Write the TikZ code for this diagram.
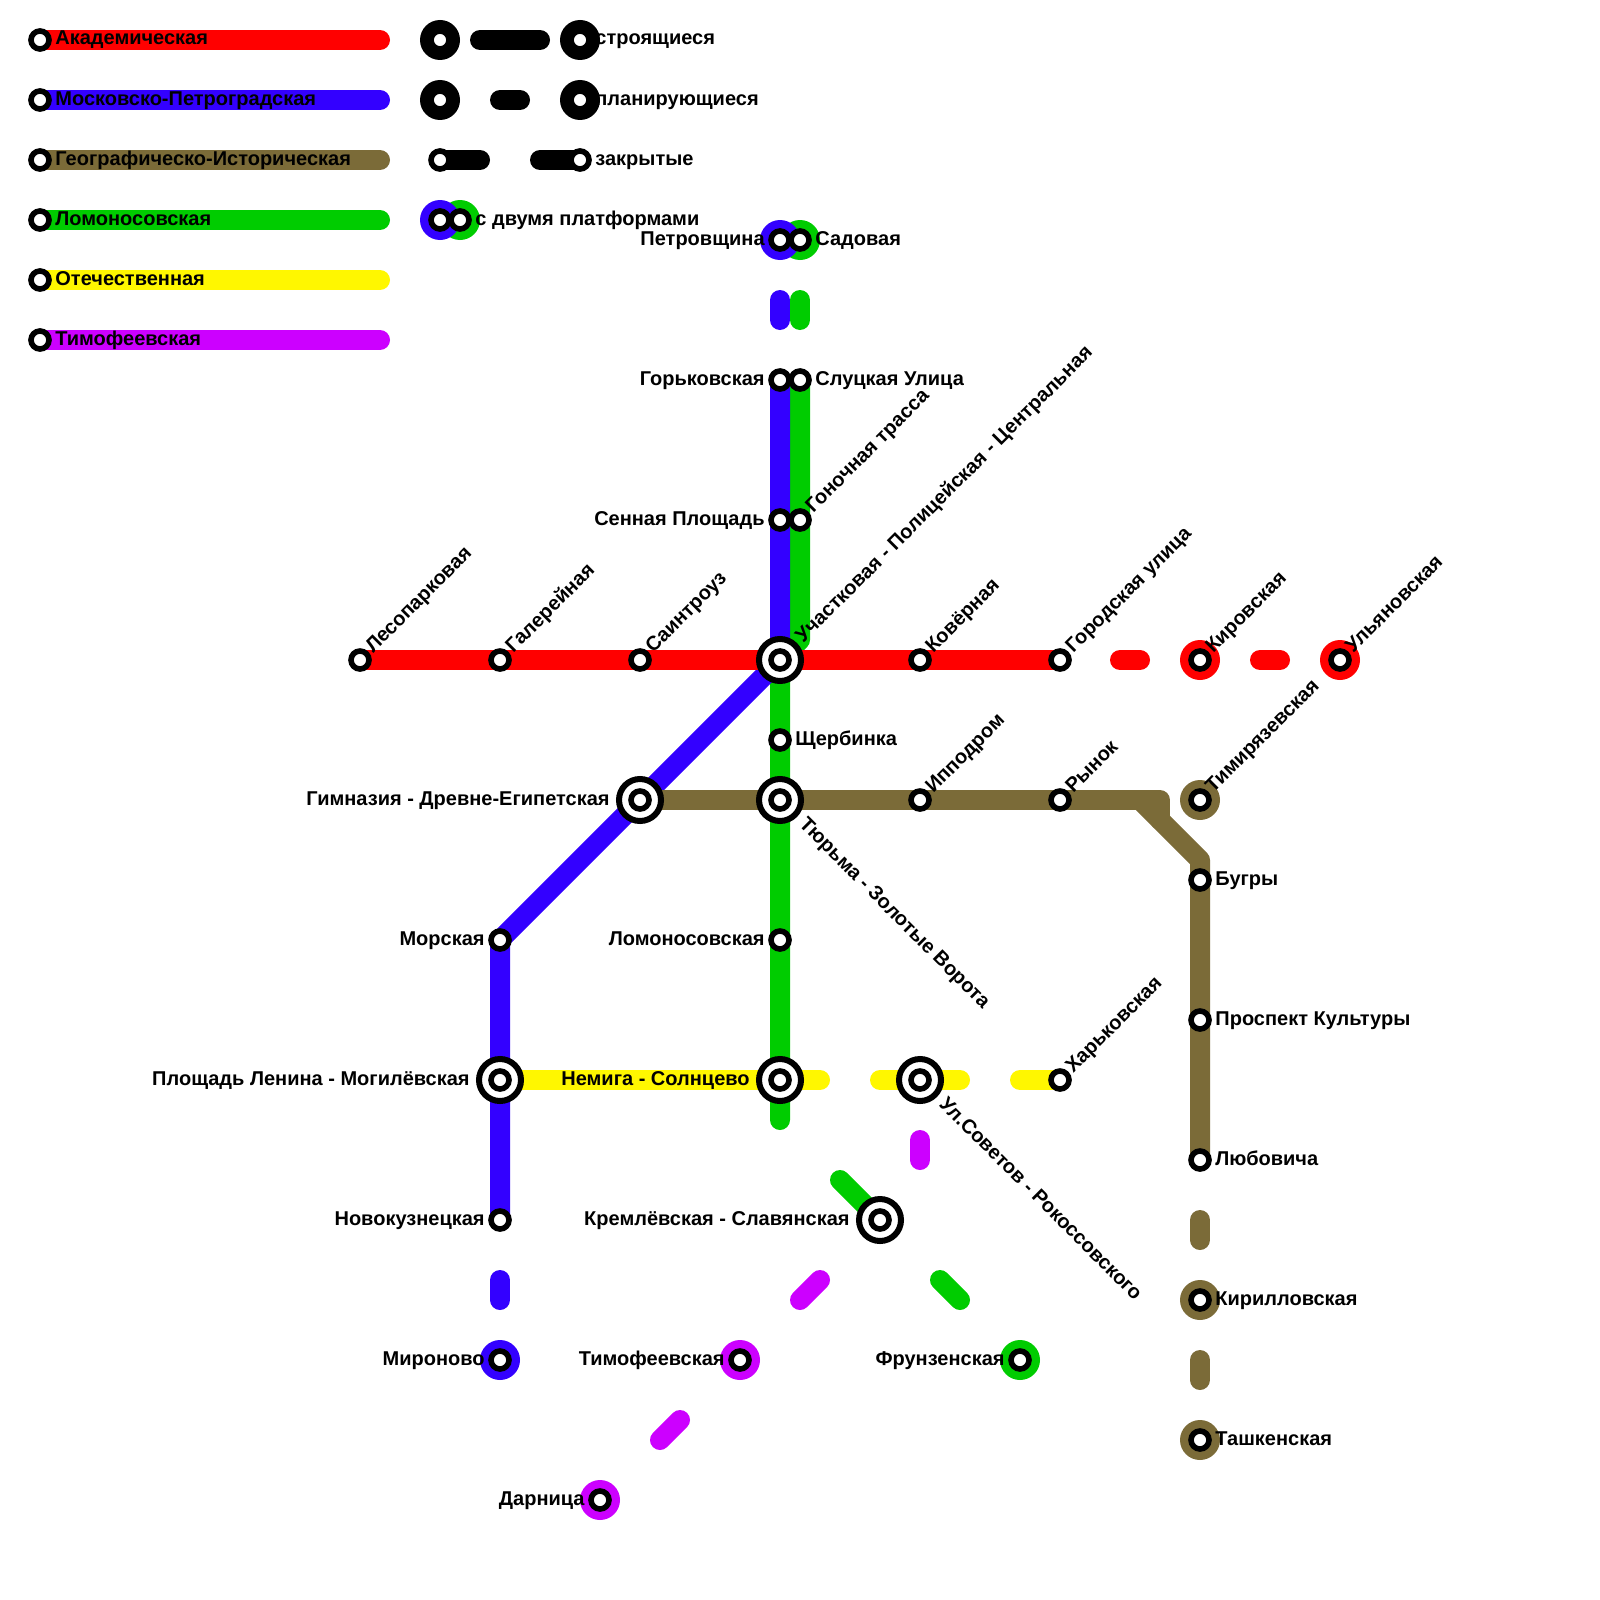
\documentclass[tikz,border=0pt]{standalone}
\usepackage{fontspec}
\setmainfont{Liberation Sans}[BoldFont={Liberation Sans Bold}]
\usetikzlibrary{calc}
\pgfdeclarelayer{bg}
\pgfsetlayers{bg,main}
\definecolor{cred}{HTML}{FF0000}
\definecolor{cblue}{HTML}{3300FF}
\definecolor{cbrown}{HTML}{7B6B38}
\definecolor{cgreen}{HTML}{00CC00}
\definecolor{cyellow}{HTML}{FFF700}
\definecolor{cpurple}{HTML}{CC00FF}
\tikzset{
  x=0.5pt,y=-0.5pt,
  sta/.style={circle,draw=black,fill=white,line width=2.8pt,minimum size=9pt,inner sep=0pt},
  big/.style={circle,draw=black,fill=white,line width=3pt,minimum size=21pt,inner sep=0pt},
  disc/.style={circle,fill=#1,minimum size=20pt,inner sep=0pt},
  track/.style={draw=#1,line width=10pt,line cap=round,line join=round},
  lbl/.style={font=\bfseries\fontsize{10pt}{11pt}\selectfont,inner sep=0pt,text=black},
  lr/.style={lbl,anchor=base west},
  ll/.style={lbl,anchor=base east},
  up/.style={lbl,anchor=base west,rotate=45},
  down/.style={lbl,anchor=base west,rotate=-45},
}
\begin{document}
\begin{tikzpicture}
\useasboundingbox (0,0) rectangle (1600,1600);
% free ends of dashes
\coordinate (rd1a) at (1120,660); \coordinate (rd1b) at (1140,660);
\coordinate (rd2a) at (1260,660); \coordinate (rd2b) at (1280,660);
\coordinate (bd1a) at (780,300); \coordinate (bd1b) at (780,320);
\coordinate (gd1a) at (800,300); \coordinate (gd1b) at (800,320);
\coordinate (bd2a) at (500,1280); \coordinate (bd2b) at (500,1300);
\coordinate (gc1) at (800,640); \coordinate (gc2) at (780,660);
\coordinate (gend) at (780,1120);
\coordinate (gd2) at (840,1180);
\coordinate (gd3a) at (940,1280); \coordinate (gd3b) at (960,1300);
\coordinate (yend) at (820,1080);
\coordinate (yd1) at (880,1080); \coordinate (yd2) at (960,1080); \coordinate (yd3) at (1020,1080);
\coordinate (pd1a) at (920,1140); \coordinate (pd1b) at (920,1160);
\coordinate (pd2a) at (820,1280); \coordinate (pd2b) at (800,1300);
\coordinate (pd3a) at (680,1420); \coordinate (pd3b) at (660,1440);
\coordinate (brA) at (1160,800); \coordinate (brB) at (1160,820);
\coordinate (brC) at (1140,800); \coordinate (brD) at (1200,860);
\coordinate (brd1a) at (1200,1220); \coordinate (brd1b) at (1200,1240);
\coordinate (brd2a) at (1200,1360); \coordinate (brd2b) at (1200,1380);
% legend ends
\coordinate (le1) at (380,40); \coordinate (le2) at (380,100); \coordinate (le3) at (380,160);
\coordinate (le4) at (380,220); \coordinate (le5) at (380,280); \coordinate (le6) at (380,340);
\coordinate (kd1a) at (480,40); \coordinate (kd1b) at (540,40);
\coordinate (kd2a) at (500,100); \coordinate (kd2b) at (520,100);
\coordinate (kd3a) at (480,160); \coordinate (kd3b) at (540,160);
% discs
\node[disc=black] (dk1) at (440,40) {}; \node[disc=black] (dk2) at (580,40) {};
\node[disc=black] (dk3) at (440,100) {}; \node[disc=black] (dk4) at (580,100) {};
\node[disc=cgreen] (dk6) at (460,220) {}; \node[disc=cblue] (dk5) at (440,220) {};
\node[disc=cgreen] (dk8) at (800,240) {}; \node[disc=cblue] (dk7) at (780,240) {};
\node[disc=cred] (dk9) at (1200,660) {}; \node[disc=cred] (dk10) at (1340,660) {};
\node[disc=cbrown] (dk11) at (1200,800) {}; \node[disc=cbrown] (dk12) at (1200,1300) {};
\node[disc=cbrown] (dk13) at (1200,1440) {};
\node[disc=cblue] (dk14) at (500,1360) {}; \node[disc=cpurple] (dk15) at (740,1360) {};
\node[disc=cgreen] (dk16) at (1020,1360) {}; \node[disc=cpurple] (dk17) at (600,1500) {};
% big rings
\node[big] (b1) at (780,660) {}; \node[big] (b2) at (640,800) {};
\node[big] (b3) at (780,800) {}; \node[big] (b4) at (500,1080) {};
\node[big] (b5) at (780,1080) {}; \node[big] (b6) at (920,1080) {};
\node[big] (b7) at (880,1220) {};
% stations
\foreach \n/\x/\y in {l1/40/40,l2/40/100,l3/40/160,l4/40/220,l5/40/280,l6/40/340,
 k1/440/40,k2/580/40,k3/440/100,k4/580/100,k5/440/160,k6/580/160,k7/440/220,k8/460/220,
 s1/780/240,s2/800/240,s3/780/380,s4/800/380,s5/780/520,s6/800/520,
 r1/360/660,r2/500/660,r3/640/660,i1/780/660,r5/920/660,r6/1060/660,r7/1200/660,r8/1340/660,
 g1/780/740,i2/640/800,i3/780/800,n1/920/800,n2/1060/800,n3/1200/800,n4/1200/880,n5/1200/1020,n6/1200/1160,
 n7/1200/1300,n8/1200/1440,m1/500/940,m2/780/940,i4/500/1080,i5/780/1080,i6/920/1080,y1/1060/1080,
 i7/880/1220,m3/500/1220,m4/500/1360,p1/740/1360,p2/600/1500,g2/1020/1360}
 {\node[sta] (\n) at (\x,\y) {};}
% tracks
\begin{pgfonlayer}{bg}
\draw[track=cred] (l1.center) -- (le1);
\draw[track=cblue] (l2.center) -- (le2);
\draw[track=cbrown] (l3.center) -- (le3);
\draw[track=cgreen] (l4.center) -- (le4);
\draw[track=cyellow] (l5.center) -- (le5);
\draw[track=cpurple] (l6.center) -- (le6);
\draw[track=black] (kd1a) -- (kd1b);
\draw[track=black] (kd2a) -- (kd2b);
\draw[track=black] (k5.center) -- (kd3a);
\draw[track=black] (kd3b) -- (k6.center);
\draw[track=cgreen] (s4.center) -- (s6.center) -- (gc1) -- (gc2) -- (g1.center) -- (i3.center) -- (m2.center) -- (i5.center) -- (gend);
\draw[track=cgreen] (gd1a) -- (gd1b);
\draw[track=cgreen] (gd2) -- (b7.center);
\draw[track=cgreen] (gd3a) -- (gd3b);
\draw[track=cblue] (s3.center) -- (s5.center) -- (i1.center) -- (i2.center) -- (m1.center) -- (i4.center) -- (m3.center);
\draw[track=cblue] (bd1a) -- (bd1b);
\draw[track=cblue] (bd2a) -- (bd2b);
\draw[track=cbrown] (i2.center) -- (i3.center) -- (n1.center) -- (n2.center) -- (brA) -- (brB);
\fill[cbrown] (brC) -- (brA) -- (brB) -- cycle;
\draw[track=cbrown] (brC) -- (brD) -- (n4.center) -- (n5.center) -- (n6.center);
\draw[track=cbrown] (brd1a) -- (brd1b);
\draw[track=cbrown] (brd2a) -- (brd2b);
\draw[track=cyellow] (i4.center) -- (i5.center) -- (yend);
\draw[track=cyellow] (yd1) -- (yd2);
\draw[track=cyellow] (yd3) -- (y1.center);
\draw[track=cpurple] (pd1a) -- (pd1b);
\draw[track=cpurple] (pd2a) -- (pd2b);
\draw[track=cpurple] (pd3a) -- (pd3b);
\draw[track=cred] (r1.center) -- (r2.center) -- (r3.center) -- (i1.center) -- (r5.center) -- (r6.center);
\draw[track=cred] (rd1a) -- (rd1b);
\draw[track=cred] (rd2a) -- (rd2b);
\end{pgfonlayer}
% legend labels
\node[lr] (t1) at (55,45) {Академическая};
\node[lr] (t2) at (55,105) {Московско-Петроградская};
\node[lr] (t3) at (55,165) {Географическо-Историческая};
\node[lr] (t4) at (55,225) {Ломоносовская};
\node[lr] (t5) at (55,285) {Отечественная};
\node[lr] (t6) at (55,345) {Тимофеевская};
\node[lr] (t7) at (595,45) {строящиеся};
\node[lr] (t8) at (595,105) {планирующиеся};
\node[lr] (t9) at (595,165) {закрытые};
\node[lr] (t10) at (475,225) {с двумя платформами};
% left labels
\node[ll] (a1) at (765,245) {Петровщина};
\node[ll] (a2) at (765,385) {Горьковская};
\node[ll] (a3) at (765,525) {Сенная Площадь};
\node[ll] (a4) at (610,805) {Гимназия - Древне-Египетская};
\node[ll] (a5) at (485,945) {Морская};
\node[ll] (a6) at (765,945) {Ломоносовская};
\node[ll] (a7) at (470,1085) {Площадь Ленина - Могилёвская};
\node[ll] (a8) at (750,1085) {Немига - Солнцево};
\node[ll] (a9) at (485,1225) {Новокузнецкая};
\node[ll] (a10) at (850,1225) {Кремлёвская - Славянская};
\node[ll] (a11) at (485,1365) {Мироново};
\node[ll] (a12) at (725,1365) {Тимофеевская};
\node[ll] (a13) at (1005,1365) {Фрунзенская};
\node[ll] (a14) at (585,1505) {Дарница};
% right labels
\node[lr] (c1) at (815,245) {Садовая};
\node[lr] (c2) at (815,385) {Слуцкая Улица};
\node[lr] (c3) at (795,745) {Щербинка};
\node[lr] (c4) at (1215,885) {Бугры};
\node[lr] (c5) at (1215,1025) {Проспект Культуры};
\node[lr] (c6) at (1215,1165) {Любовича};
\node[lr] (c7) at (1215,1305) {Кирилловская};
\node[lr] (c8) at (1215,1445) {Ташкенская};
% rotated up
\node[up] (u1) at (373,654) {Лесопарковая};
\node[up] (u2) at (513,654) {Галерейная};
\node[up] (u3) at (653,654) {Саинтроуз};
\node[up] (u4) at (813,514) {Гоночная трасса};
\node[up] (u5) at (803,644) {Участковая - Полицейская - Центральная};
\node[up] (u6) at (933,654) {Ковёрная};
\node[up] (u7) at (1073,654) {Городская улица};
\node[up] (u8) at (1213,654) {Кировская};
\node[up] (u9) at (1353,654) {Ульяновская};
\node[up] (u10) at (933,794) {Ипподром};
\node[up] (u11) at (1073,794) {Рынок};
\node[up] (u12) at (1213,794) {Тимирязевская};
\node[up] (u13) at (1073,1074) {Харьковская};
% rotated down
\node[down] (v1) at (798,825) {Тюрьма - Золотые Ворота};
\node[down] (v2) at (938,1105) {Ул.Советов - Рокоссовского};
\end{tikzpicture}
\end{document}
